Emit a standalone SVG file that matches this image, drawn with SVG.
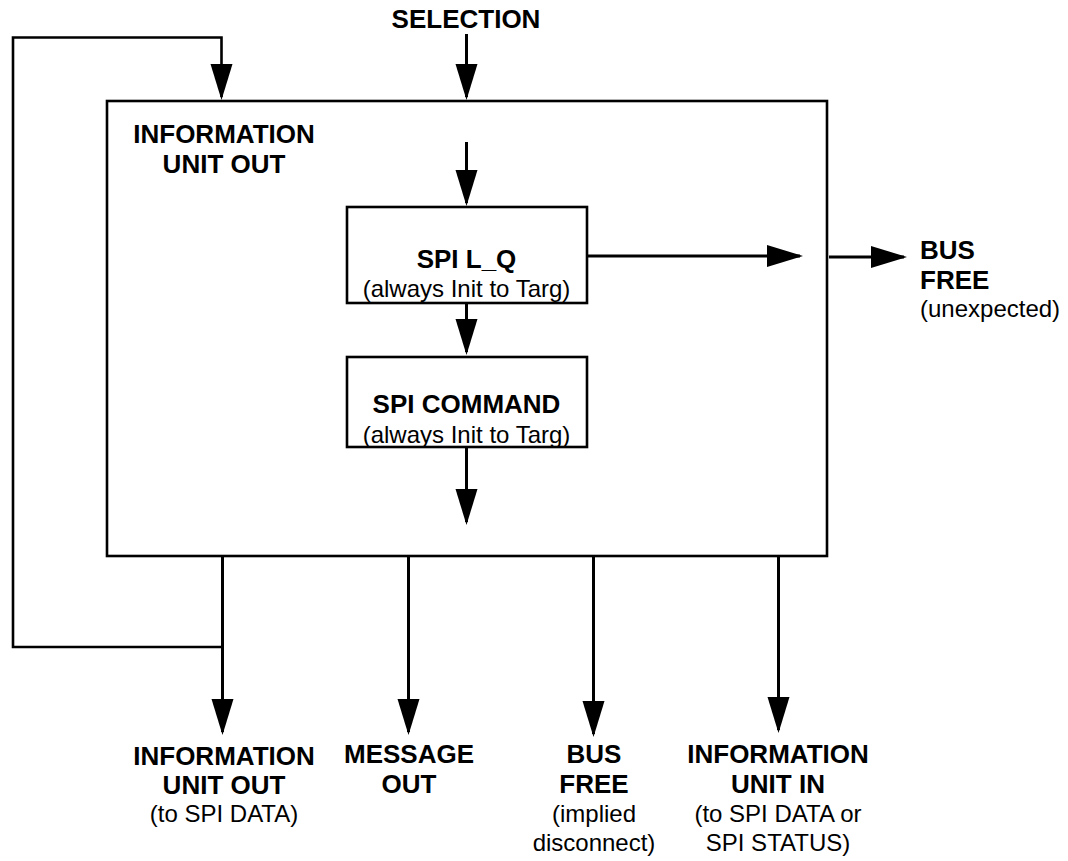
<svg xmlns="http://www.w3.org/2000/svg" width="1068" height="861" viewBox="0 0 1068 861">
  <style>
    .box { fill: #ffffff; stroke: #000000; stroke-width: 2.6; }
    .wire { fill: none; stroke: #000000; stroke-width: 3; }
    .loop { fill: none; stroke: #000000; stroke-width: 2.6; }
    .b { font-family: "Liberation Sans", Arial, sans-serif; font-weight: bold; font-size: 26px; fill: #000000; }
    .r { font-family: "Liberation Sans", Arial, sans-serif; font-size: 24px; fill: #000000; }
    .c { text-anchor: middle; }
  </style>
  <defs>
    <marker id="arrow" markerUnits="userSpaceOnUse" markerWidth="38" markerHeight="24" viewBox="0 0 38 24" refX="33" refY="11" orient="auto">
      <path d="M0,0 L36,11 L0,22 Z" fill="#000000"/>
    </marker>
  </defs>

  <rect width="1068" height="861" fill="#ffffff"/>

  <!-- outer state: information unit out -->
  <g id="node-iu-out">
    <rect class="box" x="107" y="101" width="720" height="455"/>
    <text class="b c" x="224" y="143">INFORMATION</text>
    <text class="b c" x="224" y="173">UNIT OUT</text>
  </g>

  <g id="node-spi-lq">
    <rect class="box" x="347" y="207" width="240" height="96"/>
    <text class="b c" x="466.5" y="268">SPI L_Q</text>
    <text class="r c" x="466.5" y="297">(always Init to Targ)</text>
  </g>

  <g id="node-spi-command">
    <rect class="box" x="347" y="357" width="240" height="90"/>
    <text class="b c" x="466.5" y="413">SPI COMMAND</text>
    <text class="r c" x="466.5" y="443">(always Init to Targ)</text>
  </g>

  <g id="node-selection">
    <text class="b c" x="466" y="28">SELECTION</text>
  </g>

  <g id="node-bus-free-unexpected">
    <text class="b" x="920" y="259">BUS</text>
    <text class="b" x="920" y="289">FREE</text>
    <text class="r" x="920" y="317">(unexpected)</text>
  </g>

  <g id="node-iu-out-data">
    <text class="b c" x="224" y="765">INFORMATION</text>
    <text class="b c" x="224" y="794">UNIT OUT</text>
    <text class="r c" x="224" y="822">(to SPI DATA)</text>
  </g>

  <g id="node-message-out">
    <text class="b c" x="409" y="763">MESSAGE</text>
    <text class="b c" x="409" y="793">OUT</text>
  </g>

  <g id="node-bus-free-implied">
    <text class="b c" x="594" y="763">BUS</text>
    <text class="b c" x="594" y="793">FREE</text>
    <text class="r c" x="594" y="822">(implied</text>
    <text class="r c" x="594" y="851">disconnect)</text>
  </g>

  <g id="node-iu-in">
    <text class="b c" x="778" y="763">INFORMATION</text>
    <text class="b c" x="778" y="793">UNIT IN</text>
    <text class="r c" x="778" y="822">(to SPI DATA or</text>
    <text class="r c" x="778" y="851">SPI STATUS)</text>
  </g>

  <g id="connectors">
    <!-- entry from selection -->
    <line class="wire" x1="466.5" y1="34" x2="466.5" y2="97" marker-end="url(#arrow)"/>
    <!-- loop back into information unit out -->
    <path class="loop" d="M222,647 H13 V37.5 H221.5 V97" marker-end="url(#arrow)"/>
    <!-- internal sequence -->
    <line class="wire" x1="466.5" y1="142" x2="466.5" y2="203" marker-end="url(#arrow)"/>
    <line class="wire" x1="466.5" y1="303" x2="466.5" y2="352" marker-end="url(#arrow)"/>
    <line class="wire" x1="466.5" y1="447" x2="466.5" y2="522" marker-end="url(#arrow)"/>
    <!-- unexpected bus free -->
    <line class="wire" x1="587" y1="256" x2="800" y2="256" marker-end="url(#arrow)"/>
    <line class="wire" x1="829" y1="257" x2="904" y2="257" marker-end="url(#arrow)"/>
    <!-- exits -->
    <line class="wire" x1="222.5" y1="556" x2="222.5" y2="732" marker-end="url(#arrow)"/>
    <line class="wire" x1="408.5" y1="556" x2="408.5" y2="732" marker-end="url(#arrow)"/>
    <line class="wire" x1="593.5" y1="556" x2="593.5" y2="734" marker-end="url(#arrow)"/>
    <line class="wire" x1="778.5" y1="555" x2="778.5" y2="730" marker-end="url(#arrow)"/>
  </g>
</svg>
